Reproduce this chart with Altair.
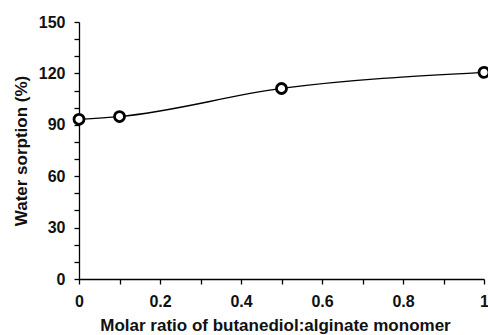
import altair as alt
import pandas as pd

ratio = [0.0, 0.1, 0.5, 1.0]
sorption = [93.2, 94.8, 111.2, 120.6]

x_ticks = [0.0, 0.1, 0.2, 0.3, 0.4, 0.5, 0.6, 0.7, 0.8, 0.9, 1.0]
y_ticks = [0, 10, 20, 30, 40, 50, 60, 70, 80, 90, 100, 110, 120, 130, 140, 150]

df = pd.DataFrame({"ratio": ratio, "sorption": sorption})

FONT = "Liberation Sans"
TXT = "#111111"

x_enc = alt.X(
    "ratio:Q",
    scale=alt.Scale(domain=[0, 1], nice=False, zero=False),
    axis=alt.Axis(
        title="Molar ratio of butanediol:alginate monomer",
        values=x_ticks,
        format="~g",
        labelExpr="round(datum.value*10) % 2 == 0 ? datum.label : ''",
        labelOverlap=False,
        grid=False,
        tickSize=5,
        labelPadding=9,
        titlePadding=8,
        titleX=196,
        domainColor="#000",
        tickColor="#000",
        labelColor=TXT,
        titleColor=TXT,
        labelFont=FONT,
        titleFont=FONT,
        labelFontSize=16,
        titleFontSize=17,
        labelFontWeight="bold",
        titleFontWeight="bold",
        labelFlush=False,
        domainWidth=1.3,
        tickWidth=1.3,
    ),
)

y_enc = alt.Y(
    "sorption:Q",
    scale=alt.Scale(domain=[0, 150], nice=False, zero=True),
    axis=alt.Axis(
        title="Water sorption (%)",
        values=y_ticks,
        labelExpr="round(datum.value) % 30 == 0 ? datum.label : ''",
        labelOverlap=False,
        grid=False,
        tickSize=5,
        labelPadding=9,
        titlePadding=8,
        domainColor="#000",
        tickColor="#000",
        labelColor=TXT,
        titleColor=TXT,
        labelFont=FONT,
        titleFont=FONT,
        labelFontSize=16,
        titleFontSize=17,
        labelFontWeight="bold",
        titleFontWeight="bold",
        labelFlush=False,
        domainWidth=1.3,
        tickWidth=1.3,
    ),
)

base = alt.Chart(df).encode(x=x_enc, y=y_enc)

line = base.mark_line(color="#000", strokeWidth=1.3, interpolate="monotone")

points = base.mark_point(
    shape="circle", size=100, filled=False, fill="white", fillOpacity=1,
    stroke="#000", strokeWidth=2.8, opacity=1
)

chart = (
    alt.layer(line, points)
    .properties(
        width=405,
        height=257,
        autosize=alt.AutoSizeParams(type="none"),
        padding={"left": 79, "top": 22, "right": 4, "bottom": 56},
        background="white",
    )
    .configure_view(stroke=None)
)

chart.save("out.html", embed_options={"renderer": "svg", "actions": False})
